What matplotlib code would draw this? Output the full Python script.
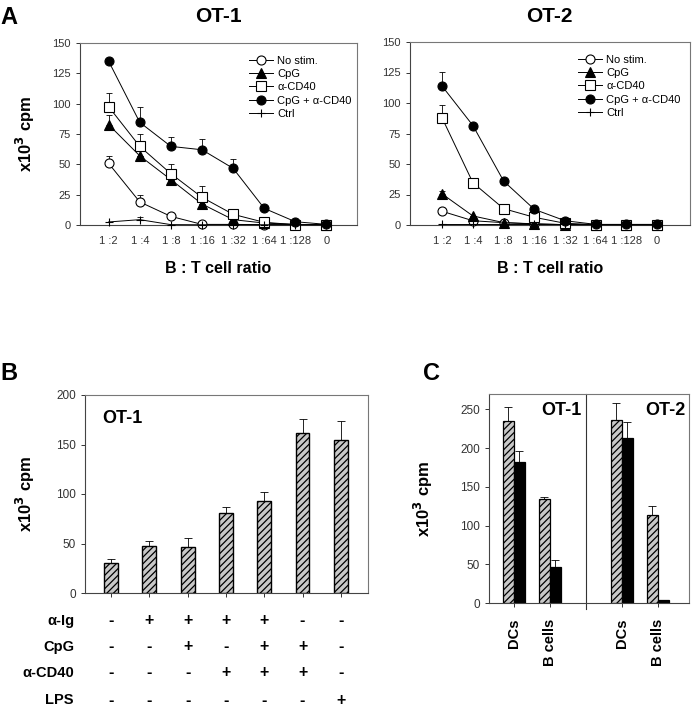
import numpy as np
import matplotlib
matplotlib.use("Agg")
import matplotlib.pyplot as plt

plt.rcParams['font.family'] = ['Liberation Sans', 'DejaVu Sans']
plt.rcParams['hatch.linewidth'] = 0.9

W, H = 695, 712

# ---- panel A data (x10^3 cpm) ----
ratios = ["1 :2", "1 :4", "1 :8", "1 :16", "1 :32", "1 :64", "1 :128", "0"]

ot1_nostim = [50.8, 19.0, 7.1, 0.5, 0.5, 0.3, 0.3, 0.3]
ot1_nostim_err = [5.8, 6.0, 0, 0, 0, 0, 0, 0]
ot1_cpg = [82.7, 57.0, 37.4, 17.3, 4.4, 1.6, 0.5, 0.3]
ot1_cpg_err = [8.3, 0, 0, 0, 0, 0, 0, 0]
ot1_cd40 = [97.5, 64.8, 42.3, 22.8, 8.8, 2.2, 0.3, 0.3]
ot1_cd40_err = [11.3, 9.9, 8.2, 9.6, 0, 0, 0, 0]
ot1_both = [135.0, 84.6, 64.8, 62.0, 46.7, 13.7, 2.7, 0.5]
ot1_both_err = [0, 12.4, 7.7, 8.9, 7.7, 0, 0, 0]
ot1_ctrl = [2.5, 4.4, 0.3, 0.2, 0.2, 0.2, 0.2, 0.2]
ot1_ctrl_err = [0, 2.2, 0, 0, 0, 0, 0, 0]

ot2_nostim = [11.2, 3.5, 1.9, 1.0, 0.3, 0.3, 0.3, 0.3]
ot2_nostim_err = [0, 0, 0, 0, 0, 0, 0, 0]
ot2_cpg = [25.4, 7.4, 2.0, 0.8, 0.3, 0.3, 0.3, 0.3]
ot2_cpg_err = [2.6, 0, 0, 0, 0, 0, 0, 0]
ot2_cd40 = [87.5, 34.6, 13.4, 6.3, 1.4, 0.3, 0.2, 0.2]
ot2_cd40_err = [11.2, 3.0, 0, 0, 0, 0, 0, 0]
ot2_both = [113.7, 81.5, 36.0, 12.8, 3.5, 0.5, 0.5, 0.5]
ot2_both_err = [11.7, 1.0, 0, 0, 0, 0, 0, 0]
ot2_ctrl = [0.5, 0.5, 0.5, 0.5, 0.5, 0.5, 0.5, 0.5]
ot2_ctrl_err = [0, 0, 0, 0, 0, 0, 0, 0]

# ---- panel B data ----
b_vals = [30.3, 47.4, 46.0, 81.3, 92.8, 161.3, 154.3]
b_err = [4.0, 5.0, 9.5, 5.1, 9.0, 14.2, 19.8]
row_names = ["\u03b1-Ig", "CpG", "\u03b1-CD40", "LPS"]
row_signs = [
    ["-", "+", "+", "+", "+", "-", "-"],
    ["-", "-", "+", "-", "+", "+", "-"],
    ["-", "-", "-", "+", "+", "+", "-"],
    ["-", "-", "-", "-", "-", "-", "+"],
]

# ---- panel C data ----
c_groups = ["DCs", "B cells", "DCs", "B cells"]
c_hatched = [235.0, 134.9, 237.0, 114.3]
c_hatched_err = [17.6, 2.6, 22.0, 11.5]
c_black = [182.6, 46.4, 213.5, 4.3]
c_black_err = [14.1, 9.4, 20.2, 0]


def px(l, t, r, b):
    return [l / W, 1 - b / H, (r - l) / W, (b - t) / H]


fig = plt.figure(figsize=(W / 100, H / 100), dpi=100)

ylab = r'x10$^\mathbf{3}$ cpm'
tick_col = '#333333'


def style_box(ax, size=8):
    for s in ax.spines.values():
        s.set_color('#777777')
        s.set_linewidth(0.8)
    ax.spines['left'].set_color('#444444')
    ax.spines['bottom'].set_color('#444444')
    ax.tick_params(labelsize=size, colors=tick_col, length=3, width=0.7)


def line_panel(ax, series, xlim):
    x = np.arange(len(ratios))
    styles = [
        ("No stim.", 'o', 'white', 6.5),
        ("CpG", '^', 'black', 6.5),
        ("\u03b1-CD40", 's', 'white', 6.5),
        ("CpG + \u03b1-CD40", 'o', 'black', 6.5),
        ("Ctrl", '+', 'black', 6),
    ]
    handles = []
    for (lab, m, fc, ms), (vals, err) in zip(styles, series):
        ax.errorbar(x, vals, yerr=[np.zeros(len(err)), err], fmt='none',
                    ecolor='black', elinewidth=0.6, capsize=2.5, capthick=0.6, zorder=2)
        h, = ax.plot(x, vals, color='black', lw=0.7, marker=m, mfc=fc, mec='black',
                     ms=ms, mew=0.8, label=lab, zorder=3, clip_on=False)
        handles.append(h)
    ax.set_xlim(*xlim)
    ax.set_ylim(0, 150)
    ax.set_yticks(range(0, 151, 25))
    ax.set_xticks(x)
    ax.set_xticklabels(ratios)
    style_box(ax)
    ax.tick_params(axis='x', length=0, pad=8)
    ax.set_xlabel("B : T cell ratio", fontsize=11.5, fontweight='bold', labelpad=11)
    return handles


# ---- A: OT-1 ----
a1 = fig.add_axes(px(80, 43, 357, 225))
hs = line_panel(a1, [(ot1_nostim, ot1_nostim_err), (ot1_cpg, ot1_cpg_err),
                     (ot1_cd40, ot1_cd40_err), (ot1_both, ot1_both_err),
                     (ot1_ctrl, ot1_ctrl_err)], (-0.92, 7.98))
a1.set_ylabel(ylab, fontsize=12, fontweight='bold')
a1.yaxis.set_label_coords(-0.155, 0.5)
a1.legend(handles=hs, loc='upper left', bbox_to_anchor=(243 / W, 1 - 50 / H),
          bbox_transform=fig.transFigure, frameon=False, fontsize=8,
          handlelength=2.2, handletextpad=0.4, labelspacing=0.3, borderpad=0)
fig.text(218 / W, 1 - 17 / H, "OT-1", fontsize=15, fontweight='bold', ha='center', va='center')

# ---- A: OT-2 ----
a2 = fig.add_axes(px(410, 42, 690, 225))
hs = line_panel(a2, [(ot2_nostim, ot2_nostim_err), (ot2_cpg, ot2_cpg_err),
                     (ot2_cd40, ot2_cd40_err), (ot2_both, ot2_both_err),
                     (ot2_ctrl, ot2_ctrl_err)], (-1.05, 8.07))
a2.legend(handles=hs, loc='upper left', bbox_to_anchor=(572 / W, 1 - 49 / H),
          bbox_transform=fig.transFigure, frameon=False, fontsize=8,
          handlelength=2.2, handletextpad=0.4, labelspacing=0.3, borderpad=0)
fig.text(549 / W, 1 - 16 / H, "OT-2", fontsize=15, fontweight='bold', ha='center', va='center')

fig.text(0 / W, 1 - 18 / H, "A", fontsize=17, fontweight='bold', ha='left', va='center')

# ---- B ----
bx = fig.add_axes(px(85, 395, 368, 593))
xb = np.arange(len(b_vals))
bx.bar(xb, b_vals, width=0.36, color='#c8c8c8', edgecolor='black', hatch='/////',
       linewidth=1.0, zorder=2)
bx.errorbar(xb, b_vals, yerr=[np.zeros(len(b_err)), b_err], fmt='none', ecolor='black',
            elinewidth=0.6, capsize=3, capthick=0.6, zorder=1)
bx.set_xlim(-0.68, 6.71)
bx.set_ylim(0, 200)
bx.set_yticks(range(0, 201, 50))
bx.set_xticks(xb)
bx.set_xticklabels([])
style_box(bx, 8.5)
bx.set_ylabel(ylab, fontsize=12, fontweight='bold')
bx.yaxis.set_label_coords(-0.17, 0.5)
bx.text(0.06, 0.88, "OT-1", transform=bx.transAxes, fontsize=13, fontweight='bold',
        ha='left', va='center')
row_y = [621, 647, 673, 700]
for name, signs, yy in zip(row_names, row_signs, row_y):
    fig.text(74 / W, 1 - yy / H, name, fontsize=10.5, fontweight='bold', ha='right', va='center')
    for xi, sg in zip(xb, signs):
        xf = fig.transFigure.inverted().transform(bx.transData.transform((xi, 0)))[0]
        fig.text(xf, 1 - yy / H, sg, fontsize=11.5, fontweight='bold', ha='center', va='center')
fig.text(0 / W, 1 - 374 / H, "B", fontsize=17, fontweight='bold', ha='left', va='center')

# ---- C ----
cx = fig.add_axes(px(489, 394, 689, 603))
xc = np.array([0, 1, 3, 4])
bw = 0.305
cx.bar(xc - bw / 2, c_hatched, width=bw, color='#c8c8c8', edgecolor='black',
       hatch='/////', linewidth=0.9, zorder=2)
cx.bar(xc + bw / 2, c_black, width=bw, color='black', edgecolor='black',
       linewidth=0.9, zorder=2)
cx.errorbar(xc - bw / 2, c_hatched, yerr=[np.zeros(4), c_hatched_err], fmt='none',
            ecolor='black', elinewidth=0.6, capsize=3, capthick=0.6, zorder=1)
cx.errorbar(xc + bw / 2, c_black, yerr=[np.zeros(4), c_black_err], fmt='none',
            ecolor='black', elinewidth=0.6, capsize=3, capthick=0.6, zorder=1)
cx.axvline(2, color='#333333', lw=0.8, ymin=-0.03, clip_on=False)
cx.set_xlim(-0.685, 4.87)
cx.set_ylim(0, 270)
cx.set_yticks(range(0, 251, 50))
cx.set_xticks(xc)
cx.set_xticklabels(c_groups, rotation=90, fontsize=10.5, fontweight='bold', color='black')
style_box(cx, 8.5)
cx.tick_params(axis='x', labelsize=10.5, labelcolor='black', pad=8)
cx.set_ylabel(ylab, fontsize=12, fontweight='bold')
cx.yaxis.set_label_coords(-0.27, 0.5)
cx.text(0.46, 0.92, "OT-1", transform=cx.transAxes, fontsize=13, fontweight='bold',
        ha='right', va='center')
cx.text(0.98, 0.92, "OT-2", transform=cx.transAxes, fontsize=13, fontweight='bold',
        ha='right', va='center')
fig.text(423 / W, 1 - 374 / H, "C", fontsize=17, fontweight='bold', ha='left', va='center')

fig.savefig("out.png", dpi=100)
